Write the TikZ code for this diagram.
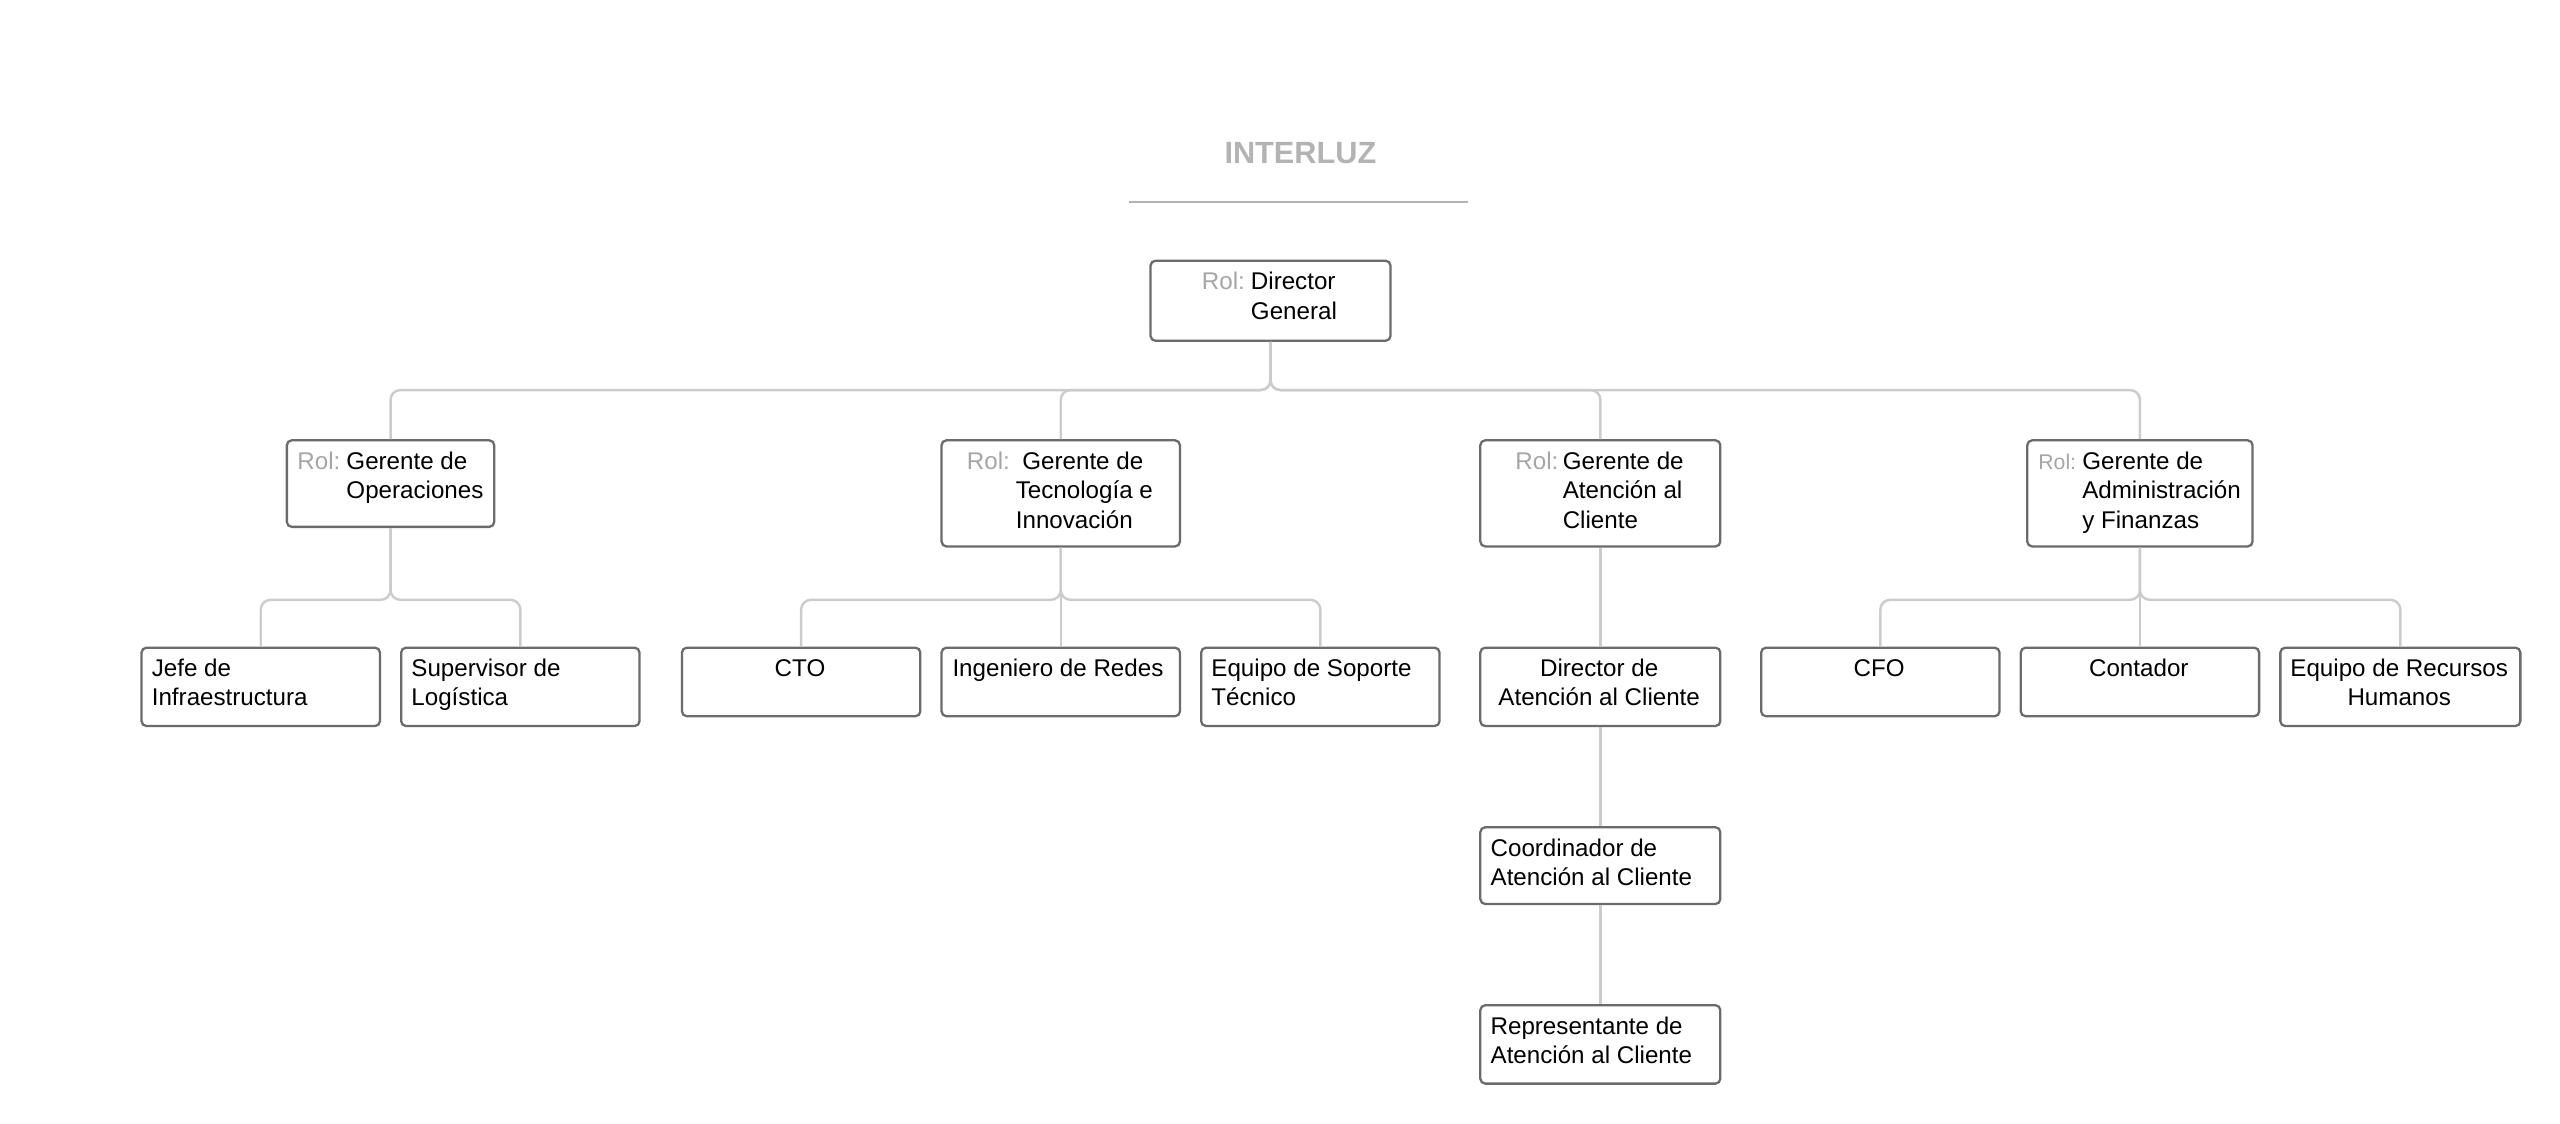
\documentclass[tikz,border=0pt]{standalone}
\usepackage{fontspec}
\setmainfont{Liberation Sans}
\definecolor{boxc}{HTML}{6B6B6B}
\definecolor{linec}{HTML}{CCCCCC}
\definecolor{rolc}{HTML}{A6A6A6}
\definecolor{titc}{HTML}{B3B3B3}
\newcommand\fs{\fontsize{14.8}{18}\selectfont}
\newcommand\tl[1]{\begin{tabular}[t]{@{}l@{}}#1\end{tabular}}
\newcommand\tc[1]{\begin{tabular}[t]{@{}c@{}}#1\end{tabular}}
\begin{document}
\begin{tikzpicture}[x=1pt,y=-1pt,
  box/.style={draw=boxc, line width=1.4pt, rounded corners=3pt, inner sep=0pt, anchor=north west, fill=white},
  txt/.style={inner sep=0pt, anchor=base west, font=\fs},
  txc/.style={inner sep=0pt, anchor=base, font=\fs},
  rol/.style={inner sep=0pt, anchor=base west, font=\fs, text=rolc},
  conn/.style={draw=linec, line width=1.5pt, rounded corners=6pt}]
\useasboundingbox (0,0) rectangle (1568,688);
% title
\node[inner sep=0pt, font=\fontsize{18.8}{22}\selectfont\bfseries, text=titc] (title) at (796.5,93.9) {INTERLUZ};
\coordinate (tl1) at (691.5,124);
\coordinate (tl2) at (899,124);
\draw[titc, line width=1.2pt] (tl1) -- (tl2);
% boxes
\node[box, minimum width=147pt, minimum height=49pt] (dg) at (704,159) {};
\node[box, minimum width=127pt, minimum height=53pt] (gop) at (175,269) {};
\node[box, minimum width=146pt, minimum height=65pt] (gti) at (576,269) {};
\node[box, minimum width=147pt, minimum height=65pt] (gac) at (906,269) {};
\node[box, minimum width=138pt, minimum height=65pt] (gaf) at (1241,269) {};
\node[box, minimum width=146pt, minimum height=48pt] (jef) at (86,396) {};
\node[box, minimum width=146pt, minimum height=48pt] (sup) at (245,396) {};
\node[box, minimum width=146pt, minimum height=42pt] (cto) at (417,396) {};
\node[box, minimum width=146pt, minimum height=42pt] (ing) at (576,396) {};
\node[box, minimum width=146pt, minimum height=48pt] (eqs) at (735,396) {};
\node[box, minimum width=147pt, minimum height=48pt] (dac) at (906,396) {};
\node[box, minimum width=146pt, minimum height=42pt] (cfo) at (1078,396) {};
\node[box, minimum width=146pt, minimum height=42pt] (con) at (1237,396) {};
\node[box, minimum width=147pt, minimum height=48pt] (erh) at (1396,396) {};
\node[box, minimum width=147pt, minimum height=47pt] (coo) at (906,506) {};
\node[box, minimum width=147pt, minimum height=48pt] (rep) at (906,615) {};
% connectors
\draw[conn] (dg.south) -- ++(0,29.5) -| (gop.north);
\draw[conn] (dg.south) -- ++(0,29.5) -| (gti.north);
\draw[conn] (dg.south) -- ++(0,29.5) -| (gac.north);
\draw[conn] (dg.south) -- ++(0,29.5) -| (gaf.north);
\draw[conn] (gop.south) -- ++(0,44) -| (jef.north);
\draw[conn] (gop.south) -- ++(0,44) -| (sup.north);
\draw[conn] (gti.south) -- ++(0,32) -| (cto.north);
\draw[conn] (gti.south) -- (ing.north);
\draw[conn] (gti.south) -- ++(0,32) -| (eqs.north);
\draw[conn] (gac.south) -- (dac.north);
\draw[conn] (dac.south) -- (coo.north);
\draw[conn] (coo.south) -- (rep.north);
\draw[conn] (gaf.south) -- ++(0,32) -| (cfo.north);
\draw[conn] (gaf.south) -- (con.north);
\draw[conn] (gaf.south) -- ++(0,32) -| (erh.north);
% texts
\node[rol] (dg-r) at (736,177.4) {Rol:};
\node[txt] (dg-t) at (766,177.4) {\tl{Director\\General}};
\node[rol] (gop-r) at (182,287.4) {Rol:};
\node[txt] (gop-t) at (212,287.4) {\tl{Gerente de\\Operaciones}};
\node[rol] (gti-r) at (592,287.4) {Rol:};
\node[txt] (gti-t) at (622,287.4) {\tl{\hspace{4pt}Gerente de\\Tecnología e\\Innovación}};
\node[rol] (gac-r) at (928,287.4) {Rol:};
\node[txt] (gac-t) at (957,287.4) {\tl{Gerente de\\Atención al\\Cliente}};
\node[rol, font=\fontsize{13}{16}\selectfont] (gaf-r) at (1248.3,287.4) {Rol:};
\node[txt] (gaf-t) at (1275.2,287.4) {\tl{Gerente de\\Administración\\y Finanzas}};
\node[txt] (jef-t) at (92.8,414.4) {\tl{Jefe de\\Infraestructura}};
\node[txt] (sup-t) at (251.8,414.4) {\tl{Supervisor de\\Logística}};
\node[txc] (cto-t) at (490,414.4) {CTO};
\node[txc] (ing-t) at (648,414.4) {Ingeniero de Redes};
\node[txt] (eqs-t) at (741.8,414.4) {\tl{Equipo de Soporte\\Técnico}};
\node[txc] (dac-t) at (979.5,414.4) {\tc{Director de\\Atención al Cliente}};
\node[txc] (cfo-t) at (1151,414.4) {CFO};
\node[txc] (con-t) at (1310,414.4) {Contador};
\node[txc] (erh-t) at (1469.5,414.4) {\tc{Equipo de Recursos\\Humanos}};
\node[txt] (coo-t) at (912.8,524.4) {\tl{Coordinador de\\Atención al Cliente}};
\node[txt] (rep-t) at (912.8,633.4) {\tl{Representante de\\Atención al Cliente}};
\end{tikzpicture}
\end{document}
